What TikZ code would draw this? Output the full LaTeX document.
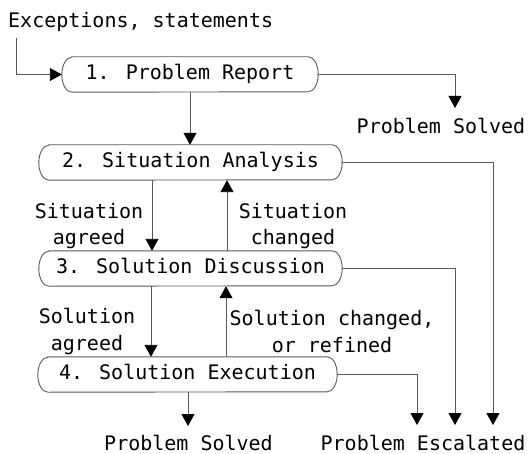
\documentclass[tikz,border=0pt]{standalone}
\usepackage{fontspec}
\setmainfont{DejaVu Sans Mono}
\usetikzlibrary{arrows.meta}
\begin{document}
\begin{tikzpicture}[x=1pt,y=1pt,
  every node/.style={font=\fontsize{20}{26.5}\selectfont, inner sep=0pt, text=black},
  stage/.style={minimum height=35pt, text height=14.6pt, text depth=4.4pt},
  lbl/.style={align=center},
  wire/.style={draw=black!65, line width=0.9pt},
  conn/.style={wire, -{Triangle[width=13pt,length=12pt,color=black]}}]
\useasboundingbox (0,0) rectangle (529,-454);
% stages
\node[stage, minimum width=256pt] (b1) at (190,-74.5) {1. Problem Report};
\node[stage, minimum width=303pt] (b2) at (190.5,-162.5) {2. Situation Analysis};
\node[stage, minimum width=303pt] (b3) at (190.5,-268.5) {3. Solution Discussion};
\node[stage, minimum width=299pt] (b4) at (187.5,-374.5) {4. Solution Execution};
\foreach \n in {b1,b2,b3,b4}
  \draw[wire] ([xshift=10pt]\n.north west) -- ([xshift=-10pt]\n.north east)
    arc[start angle=90,end angle=-90,x radius=10pt,y radius=17.5pt]
    -- ([xshift=10pt]\n.south west)
    arc[start angle=270,end angle=90,x radius=10pt,y radius=17.5pt] -- cycle;
% texts
\node[anchor=base west] (ex) at (8,-28) {Exceptions, statements};
\node[anchor=base] (ps1) at (441,-134) {Problem Solved};
\node[anchor=base] (ps2) at (188.5,-450) {Problem Solved};
\node[anchor=base] (pe) at (423,-450) {Problem Escalated};
\node[lbl] (l1) at (89,-226) {Situation\\agreed};
\node[lbl] (l2) at (293,-226) {Situation\\changed};
\node[lbl] (l3) at (87,-331.7) {Solution\\agreed};
\node[lbl] (l4) at (332,-331.7) {Solution changed,\\or refined};
% free ends
\coordinate (s) at (16,-38);
\coordinate (t1) at (455,-108);
\coordinate (t2) at (188,-426);
\coordinate (e4) at (417,-425);
\coordinate (e3) at (455,-425);
\coordinate (e2) at (493,-425);
% connectors
\draw[conn] (s) |- (b1.west);
\draw[conn] (b1.east) -| (t1);
\draw[conn] (b1.south) -- (b2.north -| b1.south);
\draw[conn] (b2.south -| 152,0) -- (b3.north -| 152,0);
\draw[conn] (b3.north -| 227,0) -- (b2.south -| 227,0);
\draw[conn] (b3.south -| 151,0) -- (b4.north -| 151,0);
\draw[conn] (b4.north -| 226,0) -- (b3.south -| 226,0);
\draw[conn] (b4.south -| t2) -- (t2);
\draw[conn] (b4.east) -| (e4);
\draw[conn] (b3.east) -| (e3);
\draw[conn] (b2.east) -| (e2);
\end{tikzpicture}
\end{document}
